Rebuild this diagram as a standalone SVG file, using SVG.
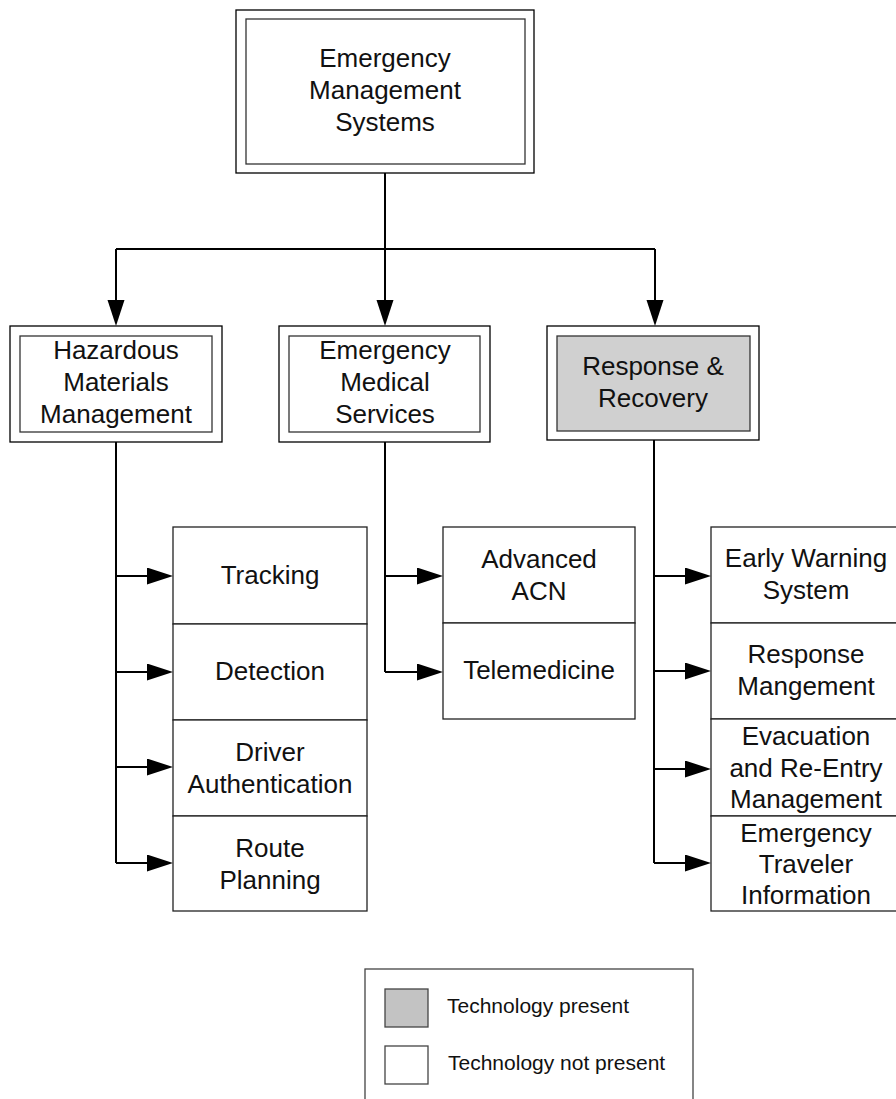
<svg xmlns="http://www.w3.org/2000/svg" width="896" height="1099" viewBox="0 0 896 1099">
<defs>
<style>
.outer{fill:#fff;stroke:#000;stroke-width:1.3}
.inner{fill:#fff;stroke:#333;stroke-width:1.3}
.grey{fill:#d0d0d0}
.sub{fill:#fff;stroke:#222;stroke-width:1.3}
.t{font-family:"Liberation Sans",Arial,sans-serif;font-size:26px;fill:#111;text-anchor:middle}
.lt{font-family:"Liberation Sans",Arial,sans-serif;font-size:21px;fill:#111}
.conn{fill:none;stroke:#000;stroke-width:2;marker-end:url(#arr)}
.line{fill:none;stroke:#000;stroke-width:2}
</style>
<marker id="arr" markerUnits="userSpaceOnUse" markerWidth="27" markerHeight="18" refX="0" refY="8.5" orient="auto">
<path d="M0,0 L26,8.5 L0,17 Z" fill="#000"/>
</marker>
</defs>
<rect width="896" height="1099" fill="#fff"/>

<g id="connectors">
<path class="line" d="M385,173 V249 M116,249 H655"/>
<path class="conn" d="M116,249 V300"/>
<path class="conn" d="M385,249 V300"/>
<path class="conn" d="M655,249 V300"/>
<path class="line" d="M116,442 V863"/>
<path class="conn" d="M116,576 H147"/>
<path class="conn" d="M116,672 H147"/>
<path class="conn" d="M116,767 H147"/>
<path class="conn" d="M116,863 H147"/>
<path class="line" d="M385,442 V672"/>
<path class="conn" d="M385,576 H417"/>
<path class="conn" d="M385,672 H417"/>
<path class="line" d="M654,440 V863"/>
<path class="conn" d="M654,576 H685"/>
<path class="conn" d="M654,671 H685"/>
<path class="conn" d="M654,769 H685"/>
<path class="conn" d="M654,863 H685"/>
</g>

<g id="ems">
<rect class="outer" x="236" y="10" width="298" height="163"/>
<rect class="inner" x="246" y="19" width="279" height="145"/>
<text class="t" x="385" y="67">Emergency</text>
<text class="t" x="385" y="99">Management</text>
<text class="t" x="385" y="131">Systems</text>
</g>

<g id="hazmat">
<rect class="outer" x="10" y="326" width="212" height="116"/>
<rect class="inner" x="20" y="336" width="192" height="96"/>
<text class="t" x="116" y="359">Hazardous</text>
<text class="t" x="116" y="391">Materials</text>
<text class="t" x="116" y="423">Management</text>
</g>

<g id="ems-medical">
<rect class="outer" x="279" y="326" width="211" height="116"/>
<rect class="inner" x="289" y="336" width="191" height="96"/>
<text class="t" x="385" y="359">Emergency</text>
<text class="t" x="385" y="391">Medical</text>
<text class="t" x="385" y="423">Services</text>
</g>

<g id="response-recovery">
<rect class="outer" x="547" y="326" width="212" height="114"/>
<rect class="inner grey" x="557" y="336" width="193" height="95"/>
<text class="t" x="653" y="375">Response &amp;</text>
<text class="t" x="653" y="407">Recovery</text>
</g>

<g id="tracking">
<rect class="sub" x="173" y="527" width="194" height="97"/>
<text class="t" x="270" y="584">Tracking</text>
</g>
<g id="detection">
<rect class="sub" x="173" y="624" width="194" height="96"/>
<text class="t" x="270" y="680">Detection</text>
</g>
<g id="driver-auth">
<rect class="sub" x="173" y="720" width="194" height="96"/>
<text class="t" x="270" y="761">Driver</text>
<text class="t" x="270" y="793">Authentication</text>
</g>
<g id="route-planning">
<rect class="sub" x="173" y="816" width="194" height="95"/>
<text class="t" x="270" y="857">Route</text>
<text class="t" x="270" y="889">Planning</text>
</g>

<g id="advanced-acn">
<rect class="sub" x="443" y="527" width="192" height="96"/>
<text class="t" x="539" y="568">Advanced</text>
<text class="t" x="539" y="600">ACN</text>
</g>
<g id="telemedicine">
<rect class="sub" x="443" y="623" width="192" height="96"/>
<text class="t" x="539" y="679">Telemedicine</text>
</g>

<g id="early-warning">
<rect class="sub grey" x="711" y="527" width="190" height="96"/>
<text class="t" x="806" y="567">Early Warning</text>
<text class="t" x="806" y="599">System</text>
</g>
<g id="response-mgmt">
<rect class="sub grey" x="711" y="623" width="190" height="96"/>
<text class="t" x="806" y="663">Response</text>
<text class="t" x="806" y="695">Mangement</text>
</g>
<g id="evacuation">
<rect class="sub" x="711" y="719" width="190" height="97"/>
<text class="t" x="806" y="745">Evacuation</text>
<text class="t" x="806" y="777">and Re-Entry</text>
<text class="t" x="806" y="808">Management</text>
</g>
<g id="traveler-info">
<rect class="sub" x="711" y="816" width="190" height="95"/>
<text class="t" x="806" y="842">Emergency</text>
<text class="t" x="806" y="873">Traveler</text>
<text class="t" x="806" y="904">Information</text>
</g>

<g id="legend">
<rect x="365" y="969" width="328" height="140" fill="#fff" stroke="#444" stroke-width="1.3"/>
<rect x="385" y="989" width="43" height="38" fill="#c3c3c3" stroke="#444" stroke-width="1.3"/>
<rect x="385" y="1046" width="43" height="38" fill="#fff" stroke="#444" stroke-width="1.3"/>
<text class="lt" x="447" y="1013">Technology present</text>
<text class="lt" x="448" y="1070">Technology not present</text>
</g>
</svg>
